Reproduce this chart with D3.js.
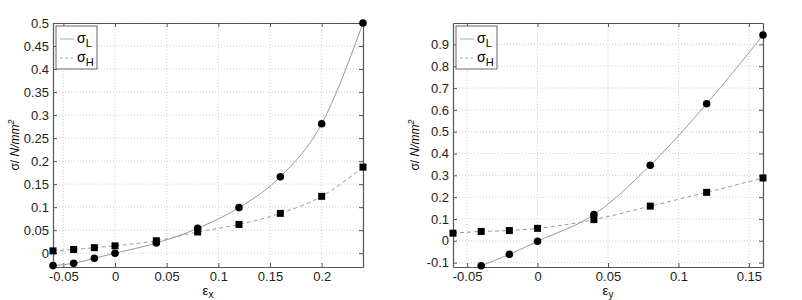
<!DOCTYPE html>
<html lang="en">
<head>
    <meta charset="UTF-8">
    <title>sigma vs epsilon</title>
    <style>
        body { margin: 0; background: #fff; }
        svg { font-family: "Liberation Sans", Arial, sans-serif; }
    </style>
</head>
<body>
    <div id="chart-wrapper"></div>

    <script src="https://d3js.org/d3.v7.min.js"></script>
    <script>
        // left panel: strain in x
        const epsX = [-0.06, -0.04, -0.02, 0, 0.04, 0.08, 0.12, 0.16, 0.2, 0.24]
        const sigmaLx = [-0.027, -0.022, -0.011, 0, 0.022, 0.054, 0.099, 0.166, 0.281, 0.5]
        const sigmaHx = [0.005, 0.008, 0.012, 0.016, 0.027, 0.046, 0.0625, 0.0865, 0.1235, 0.187]
        const xTicksX = [-0.05, 0, 0.05, 0.1, 0.15, 0.2]
        const yTicksX = [0, 0.05, 0.1, 0.15, 0.2, 0.25, 0.3, 0.35, 0.4, 0.45, 0.5]

        // right panel: strain in y
        const epsY = [-0.04, -0.02, 0, 0.04, 0.08, 0.12, 0.16]
        const sigmaLy = [-0.114, -0.062, -0.002, 0.12, 0.346, 0.628, 0.943]
        const epsYH = [-0.06, -0.04, -0.02, 0, 0.04, 0.08, 0.12, 0.16]
        const sigmaHy = [0.035, 0.043, 0.047, 0.057, 0.097, 0.159, 0.222, 0.288]
        const xTicksY = [-0.05, 0, 0.05, 0.1, 0.15]
        const yTicksY = [-0.1, 0, 0.1, 0.2, 0.3, 0.4, 0.5, 0.6, 0.7, 0.8, 0.9]

        const svg = d3.select('#chart-wrapper')
            .append('svg')
            .attr('width', 802)
            .attr('height', 300)

        const fmt = d => d === 0 ? '0' : String(+d.toFixed(2))

        function panel(opt) {
            const w = 310, h = 244
            const g = svg.append('g')
                .attr('transform', `translate(${ opt.left }, 23)`)

            const x = d3.scaleLinear().domain(opt.xDomain).range([0, w])
            const y = d3.scaleLinear().domain(opt.yDomain).range([h, 0])

            const clipId = 'clip' + opt.left
            g.append('clipPath').attr('id', clipId)
                .append('rect').attr('width', w).attr('height', h)

            // grid
            g.append('g').selectAll('line')
                .data(opt.xTicks).enter().append('line')
                .attr('x1', d => x(d)).attr('x2', d => x(d))
                .attr('y1', 0).attr('y2', h)
                .attr('stroke', '#cfcfcf').attr('stroke-dasharray', '1,2')
            g.append('g').selectAll('line')
                .data(opt.yTicks).enter().append('line')
                .attr('y1', d => y(d)).attr('y2', d => y(d))
                .attr('x1', 0).attr('x2', w)
                .attr('stroke', '#cfcfcf').attr('stroke-dasharray', '1,2')

            // axes with inward ticks on all sides
            const axB = g.append('g').attr('transform', `translate(0, ${ h })`)
                .call(d3.axisBottom(x).tickValues(opt.xTicks).tickFormat(fmt).tickSizeInner(-4).tickSizeOuter(0).tickPadding(5))
            const axL = g.append('g')
                .call(d3.axisLeft(y).tickValues(opt.yTicks).tickFormat(fmt).tickSizeInner(-4).tickSizeOuter(0).tickPadding(4))
            const axT = g.append('g')
                .call(d3.axisTop(x).tickValues(opt.xTicks).tickFormat('').tickSizeInner(-4).tickSizeOuter(0))
            const axR = g.append('g').attr('transform', `translate(${ w }, 0)`)
                .call(d3.axisRight(y).tickValues(opt.yTicks).tickFormat('').tickSizeInner(-4).tickSizeOuter(0))
            ;[axB, axL, axT, axR].forEach(a => {
                a.select('.domain').attr('stroke', '#555').attr('stroke-width', 1.2)
                a.selectAll('.tick line').attr('stroke', '#555')
                a.selectAll('text').attr('font-size', 13).attr('fill', '#222')
                    .attr('font-family', '"Liberation Sans", Arial, sans-serif')
            })

            const plot = g.append('g').attr('clip-path', `url(#${ clipId })`)
            const line = d3.line().curve(d3.curveMonotoneX)
                .x(d => x(d[0])).y(d => y(d[1]))

            const ptsL = opt.xL.map((v, i) => [v, opt.yL[i]])
            const ptsH = opt.xH.map((v, i) => [v, opt.yH[i]])

            plot.append('path').datum(ptsL).attr('d', line)
                .attr('fill', 'none').attr('stroke', '#9a9a9a').attr('stroke-width', 1)
            plot.append('path').datum(ptsH).attr('d', line)
                .attr('fill', 'none').attr('stroke', '#9a9a9a').attr('stroke-width', 1)
                .attr('stroke-dasharray', '4,3')

            g.append('g').selectAll('rect')
                .data(ptsH).enter().append('rect')
                .attr('x', d => x(d[0]) - 3.5).attr('y', d => y(d[1]) - 3.5)
                .attr('width', 7).attr('height', 7).attr('fill', '#000')
            g.append('g').selectAll('circle')
                .data(ptsL).enter().append('circle')
                .attr('cx', d => x(d[0])).attr('cy', d => y(d[1]))
                .attr('r', 3.8).attr('fill', '#000')

            // legend
            const lg = g.append('g').attr('transform', 'translate(3, 3)')
            lg.append('rect').attr('width', 41).attr('height', 43)
                .attr('fill', '#fff').attr('stroke', '#666')
            lg.append('line').attr('x1', 4).attr('x2', 18).attr('y1', 13).attr('y2', 13)
                .attr('stroke', '#aaa')
            lg.append('line').attr('x1', 4).attr('x2', 18).attr('y1', 32).attr('y2', 32)
                .attr('stroke', '#aaa').attr('stroke-dasharray', '3,2')
            const t1 = lg.append('text').attr('x', 21).attr('y', 17).attr('font-size', 14)
            t1.append('tspan').text('σ')
            t1.append('tspan').attr('dy', 4).attr('font-size', 11).text('L')
            const t2 = lg.append('text').attr('x', 21).attr('y', 36).attr('font-size', 14)
            t2.append('tspan').text('σ')
            t2.append('tspan').attr('dy', 4).attr('font-size', 11).text('H')

            // axis labels
            const xl = g.append('text').attr('x', w / 2).attr('y', h + 28)
                .attr('text-anchor', 'middle').attr('font-size', 13)
            xl.append('tspan').text('ε')
            xl.append('tspan').attr('dy', 3).attr('font-size', 10).text(opt.sub)

            const yl = g.append('text')
                .attr('transform', `translate(${ -opt.ylOff }, ${ h / 2 }) rotate(-90)`)
                .attr('text-anchor', 'middle').attr('font-size', 12)
            yl.append('tspan').text('σ/ ')
            yl.append('tspan').attr('font-style', 'italic').text('N/mm')
            yl.append('tspan').attr('font-style', 'italic').attr('dy', -5).attr('font-size', 9).text('2')
        }

        panel({
            left: 53, xDomain: [-0.06, 0.24], yDomain: [-0.03, 0.5],
            xTicks: xTicksX, yTicks: yTicksX,
            xL: epsX, yL: sigmaLx, xH: epsX, yH: sigmaHx,
            sub: 'x', ylOff: 34
        })
        panel({
            left: 453, xDomain: [-0.06, 0.16], yDomain: [-0.12, 0.998],
            xTicks: xTicksY, yTicks: yTicksY,
            xL: epsY, yL: sigmaLy, xH: epsYH, yH: sigmaHy,
            sub: 'y', ylOff: 34
        })
    </script>
</body>
</html>
